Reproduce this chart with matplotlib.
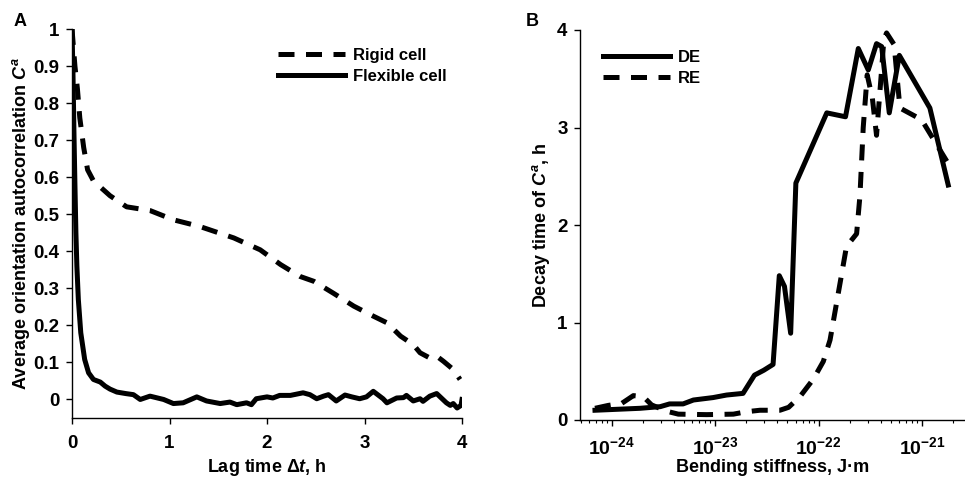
import matplotlib
matplotlib.use("Agg")
import matplotlib.pyplot as plt
from matplotlib.ticker import FixedLocator, LogLocator, NullFormatter

plt.rcParams['font.family'] = ['Liberation Sans', 'DejaVu Sans']
plt.rcParams['font.weight'] = 'bold'
plt.rcParams['mathtext.fontset'] = 'custom'
plt.rcParams['mathtext.rm'] = 'Liberation Sans:bold'
plt.rcParams['mathtext.it'] = 'Liberation Sans:bold:italic'
plt.rcParams['mathtext.bf'] = 'Liberation Sans:bold'

# ---------------- Panel A data ----------------
rigid_t = [0.0, 0.03, 0.055, 0.08, 0.12, 0.16, 0.22, 0.39, 0.56, 0.8, 1.04, 1.31, 1.66,
           1.93, 2.14, 2.34, 2.48, 2.68, 2.89, 3.09, 3.23, 3.37, 3.5, 3.57, 3.67, 3.74,
           3.81, 3.91, 3.98]
rigid_c = [1.0, 0.9, 0.84, 0.76, 0.68, 0.62, 0.59, 0.55, 0.52, 0.51, 0.485, 0.467, 0.436,
           0.404, 0.364, 0.332, 0.319, 0.287, 0.252, 0.225, 0.207, 0.171, 0.148, 0.126,
           0.112, 0.117, 0.103, 0.081, 0.054]

flex_t = [0.0, 0.01, 0.02, 0.03, 0.04, 0.05, 0.065, 0.09, 0.13, 0.17, 0.22, 0.29, 0.34,
          0.39, 0.46, 0.55, 0.63, 0.70, 0.80, 0.94, 1.04, 1.14, 1.28, 1.38, 1.52, 1.62,
          1.69, 1.79, 1.84, 1.89, 2.0, 2.06, 2.13, 2.24, 2.37, 2.44, 2.51, 2.58, 2.63,
          2.71, 2.8, 2.87, 2.95, 3.02, 3.09, 3.19, 3.23, 3.33, 3.4, 3.43, 3.5, 3.57, 3.6,
          3.67, 3.74, 3.84, 3.88, 3.91, 3.95, 3.99, 4.0]
flex_c = [1.0, 0.88, 0.72, 0.58, 0.45, 0.36, 0.27, 0.18, 0.108, 0.072, 0.054, 0.047, 0.036,
          0.028, 0.02, 0.016, 0.013, 0.0, 0.009, 0.0, -0.011, -0.009, 0.007, -0.004, -0.011,
          -0.007, -0.014, -0.009, -0.014, 0.002, 0.007, 0.004, 0.011, 0.011, 0.018, 0.013,
          0.002, 0.009, 0.013, -0.004, 0.012, 0.007, 0.002, 0.007, 0.022, 0.002, -0.009,
          0.004, 0.005, 0.011, -0.004, 0.002, -0.005, 0.009, 0.016, -0.009, -0.016, -0.011,
          -0.023, -0.016, 0.0]

a_xticks = [0, 1, 2, 3, 4]
a_yticks = [0, 0.1, 0.2, 0.3, 0.4, 0.5, 0.6, 0.7, 0.8, 0.9, 1]
a_yticklabels = ['0', '0.1', '0.2', '0.3', '0.4', '0.5', '0.6', '0.7', '0.8', '0.9', '1']

# ---------------- Panel B data ----------------
de_k = [6.90e-25, 1.88e-24, 2.95e-24, 3.63e-24, 4.90e-24, 6.17e-24, 9.55e-24, 1.29e-23,
        1.86e-23, 2.40e-23, 2.95e-23, 3.63e-23, 4.17e-23, 4.68e-23, 5.37e-23, 6.03e-23,
        1.20e-22, 1.82e-22, 2.42e-22, 3.02e-22, 3.63e-22, 4.07e-22, 4.82e-22, 6.03e-22,
        1.19e-21, 1.79e-21]
de_tau = [0.10, 0.12, 0.137, 0.165, 0.165, 0.205, 0.23, 0.256, 0.273, 0.46, 0.51, 0.57,
          1.48, 1.37, 0.89, 2.43, 3.15, 3.11, 3.81, 3.59, 3.86, 3.83, 3.15, 3.74, 3.20, 2.41]

re_k = [6.90e-25, 9.29e-25, 1.25e-24, 1.62e-24, 2.02e-24, 2.43e-24, 3.40e-24, 4.41e-24,
        8.28e-24, 1.50e-23, 2.01e-23, 2.71e-23, 4.23e-23, 5.13e-23, 6.61e-23, 8.91e-23,
        1.11e-22, 1.29e-22, 1.61e-22, 1.86e-22, 2.33e-22, 2.51e-22, 2.70e-22, 2.95e-22,
        3.31e-22, 3.63e-22, 4.07e-22, 4.27e-22, 4.54e-22, 5.37e-22, 6.11e-22, 9.89e-22,
        1.79e-21]
re_tau = [0.12, 0.15, 0.17, 0.25, 0.24, 0.155, 0.09, 0.06, 0.055, 0.06, 0.085, 0.10, 0.10,
          0.13, 0.24, 0.42, 0.60, 0.82, 1.40, 1.78, 1.91, 2.3, 3.0, 3.54, 3.30, 2.92, 3.6,
          3.9, 3.97, 3.85, 3.2, 3.08, 2.63]

b_xticks = [1e-24, 1e-23, 1e-22, 1e-21]
b_xticklabels = [r'$\mathbf{10^{-24}}$', r'$\mathbf{10^{-23}}$',
                 r'$\mathbf{10^{-22}}$', r'$\mathbf{10^{-21}}$']
b_yticks = [0, 1, 2, 3, 4]

W, H = 965, 483
fig = plt.figure(figsize=(9.65, 4.83), dpi=100)

LW = 3.6
DASH = (3.2, 2.3)
TICK_FS = 13.5
LABEL_FS = 13
LEG_FS = 12

# Panel A
axA = fig.add_axes([72 / W, 1 - 418 / H, (462 - 72) / W, (418 - 29) / H])
axA.plot(rigid_t, rigid_c, color='black', lw=LW, linestyle=(0, DASH), label='Rigid cell')
axA.plot(flex_t, flex_c, color='black', lw=LW, label='Flexible cell')
axA.set_xlim(0, 4)
axA.set_ylim(-0.05, 1)
axA.set_xticks(a_xticks)
axA.set_yticks(a_yticks)
axA.set_yticklabels(a_yticklabels)
axA.spines['top'].set_visible(False)
axA.spines['right'].set_visible(False)
for s in ('left', 'bottom'):
    axA.spines[s].set_linewidth(1.0)
axA.tick_params(direction='out', length=4, width=1.0, labelsize=TICK_FS)
axA.tick_params(axis='x', pad=8)
axA.tick_params(axis='y', pad=5)
axA.set_xlabel(r'Lag time $\Delta t$, h', fontsize=LABEL_FS, fontweight='bold', labelpad=4)
axA.set_ylabel(r'Average orientation autocorrelation $C^a$', fontsize=LABEL_FS,
               fontweight='bold', labelpad=1)
legA = axA.legend(loc='upper left', bbox_to_anchor=(278 / W, 1 - 48 / H),
                  bbox_transform=fig.transFigure, frameon=False, fontsize=LEG_FS,
                  handlelength=4.0, handletextpad=0.5, labelspacing=0.35,
                  borderaxespad=0, borderpad=0)
fig.text(20 / W, 1 - 22 / H, 'A', fontsize=13, fontweight='bold', ha='center', va='center')

# Panel B
axB = fig.add_axes([580 / W, 1 - 420 / H, (965 - 580) / W, (420 - 30) / H])
axB.plot(de_k, de_tau, color='black', lw=LW, label='DE')
axB.plot(re_k, re_tau, color='black', lw=LW, linestyle=(0, DASH), label='RE')
axB.set_xscale('log')
axB.set_xlim(10 ** -24.306, 10 ** -20.585)
axB.set_ylim(0, 4)
axB.xaxis.set_major_locator(FixedLocator(b_xticks))
axB.set_xticklabels(b_xticklabels)
axB.xaxis.set_minor_locator(LogLocator(base=10, subs=range(2, 10), numticks=20))
axB.xaxis.set_minor_formatter(NullFormatter())
axB.set_yticks(b_yticks)
axB.spines['top'].set_visible(False)
axB.spines['right'].set_visible(False)
for s in ('left', 'bottom'):
    axB.spines[s].set_linewidth(1.0)
axB.tick_params(which='major', direction='out', length=4, width=1.0, labelsize=TICK_FS)
axB.tick_params(axis='x', which='major', labelsize=14, pad=8)
axB.tick_params(axis='y', pad=5)
axB.tick_params(which='minor', direction='out', length=2, width=0.8)
axB.set_xlabel('Bending stiffness, J\u00b7m', fontsize=LABEL_FS, fontweight='bold')
axB.xaxis.set_label_coords(0.5, (420 - 459) / 390)
axB.set_ylabel(r'Decay time of $C^a$, h', fontsize=LABEL_FS, fontweight='bold', labelpad=4)
legB = axB.legend(loc='upper left', bbox_to_anchor=(603 / W, 1 - 50 / H),
                  bbox_transform=fig.transFigure, frameon=False, fontsize=LEG_FS,
                  handlelength=4.0, handletextpad=0.5, labelspacing=0.35,
                  borderaxespad=0, borderpad=0)
fig.text(532 / W, 1 - 22 / H, 'B', fontsize=13, fontweight='bold', ha='center', va='center')

fig.savefig('out.png', dpi=100)
